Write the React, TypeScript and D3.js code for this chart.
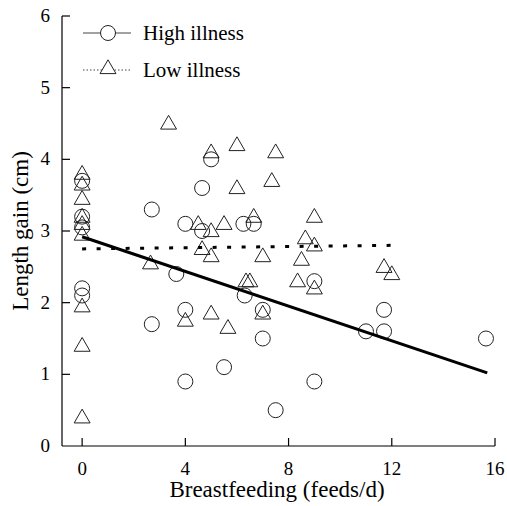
import React, { useEffect, useRef } from 'react';
import * as d3 from 'd3';

// high illness group (circles): [feeds/d, length gain cm]
const highIllness: [number, number][] = [
  [0, 3.7], [0, 3.2], [0, 3.05], [0, 2.2], [0, 2.1],
  [2.7, 3.3], [2.7, 1.7], [3.65, 2.4], [4, 3.1], [4, 1.9], [4, 0.9],
  [4.65, 3.6], [4.65, 3.0], [5.0, 4.0], [5.5, 1.1],
  [6.25, 3.1], [6.3, 2.1], [6.65, 3.1], [7.0, 1.9], [7.0, 1.5],
  [7.5, 0.5], [9.0, 2.3], [9.0, 0.9],
  [11.0, 1.6], [11.7, 1.9], [11.7, 1.6], [15.65, 1.5]
];

// low illness group (triangles)
const lowIllness: [number, number][] = [
  [0, 3.8], [0, 3.65], [0, 3.45], [0, 3.2], [0, 3.1], [0, 2.95],
  [0, 1.95], [0, 1.4], [0, 0.4],
  [2.65, 2.55], [3.35, 4.5], [4.0, 1.75], [4.5, 3.1], [4.65, 2.75],
  [5.0, 4.1], [5.0, 3.0], [5.0, 2.65], [5.0, 1.85], [5.5, 3.1], [5.65, 1.65],
  [6.0, 4.2], [6.0, 3.6], [6.35, 2.3], [6.5, 2.3], [6.65, 3.2],
  [7.0, 2.65], [7.0, 1.85], [7.35, 3.7], [7.5, 4.1],
  [8.35, 2.3], [8.5, 2.6], [8.65, 2.9], [9.0, 3.2], [9.0, 2.8], [9.0, 2.2],
  [11.7, 2.5], [12.0, 2.4]
];

// fitted regression lines (end points)
const highFit: [number, number][] = [[0, 2.92], [15.7, 1.02]];
const lowFit: [number, number][] = [[0, 2.75], [12, 2.8]];

const xTicks = [0, 4, 8, 12, 16];
const yTicks = [0, 1, 2, 3, 4, 5, 6];

const W = 507, H = 506;
const FONT = '"Liberation Serif", "Times New Roman", serif';

export default function App() {
  const svgRef = useRef<SVGSVGElement>(null);

  useEffect(() => {
    const svg = d3.select(svgRef.current);
    svg.selectAll('*').remove();

    const x = d3.scaleLinear().domain([-0.78, 16]).range([62, 495]);
    const y = d3.scaleLinear().domain([0, 6]).range([446, 16]);

    // axes
    const g = svg.append('g').attr('stroke', '#000').attr('stroke-width', 1.2);
    g.append('line').attr('x1', x.range()[0]).attr('x2', x.range()[1])
      .attr('y1', y(0)).attr('y2', y(0));
    g.append('line').attr('x1', x.range()[0]).attr('x2', x.range()[0])
      .attr('y1', y(0)).attr('y2', y(6));

    g.selectAll('.xt').data(xTicks).enter().append('line')
      .attr('x1', d => x(d)).attr('x2', d => x(d))
      .attr('y1', y(0)).attr('y2', y(0) - 8);
    g.selectAll('.yt').data(yTicks.filter(d => d > 0)).enter().append('line')
      .attr('x1', x.range()[0]).attr('x2', x.range()[0] + 8)
      .attr('y1', d => y(d)).attr('y2', d => y(d));

    svg.selectAll('.xl').data(xTicks).enter().append('text')
      .attr('x', d => x(d)).attr('y', 475)
      .attr('text-anchor', 'middle')
      .attr('font-family', FONT).attr('font-size', 19)
      .text(d => d);
    svg.selectAll('.yl').data(yTicks).enter().append('text')
      .attr('x', 50).attr('y', d => y(d) + 6)
      .attr('text-anchor', 'end')
      .attr('font-family', FONT).attr('font-size', 19)
      .text(d => d);

    svg.append('text')
      .attr('x', 277).attr('y', 497)
      .attr('text-anchor', 'middle')
      .attr('font-family', FONT).attr('font-size', 23)
      .text('Breastfeeding (feeds/d)');
    svg.append('text')
      .attr('transform', 'translate(28,' + 231 + ') rotate(-90)')
      .attr('text-anchor', 'middle')
      .attr('font-family', FONT).attr('font-size', 23)
      .text('Length gain (cm)');

    const tri = d3.symbol().type(d3.symbolTriangle).size(110);

    // points
    svg.selectAll('.c').data(highIllness).enter().append('circle')
      .attr('cx', d => x(d[0])).attr('cy', d => y(d[1])).attr('r', 7.5)
      .attr('fill', 'none').attr('stroke', '#222').attr('stroke-width', 1);
    svg.selectAll('.t').data(lowIllness).enter().append('path')
      .attr('d', tri)
      .attr('transform', d => 'translate(' + x(d[0]) + ',' + (y(d[1]) + 1) + ')')
      .attr('fill', 'none').attr('stroke', '#222').attr('stroke-width', 1);

    // fit lines
    const line = d3.line<[number, number]>().x(d => x(d[0])).y(d => y(d[1]));
    svg.append('path').attr('d', line(highFit))
      .attr('fill', 'none').attr('stroke', '#000').attr('stroke-width', 3);
    svg.append('path').attr('d', line(lowFit))
      .attr('fill', 'none').attr('stroke', '#000').attr('stroke-width', 3)
      .attr('stroke-dasharray', '4 10.5');

    // legend
    const lg = svg.append('g');
    lg.append('line').attr('x1', 83).attr('x2', 131).attr('y1', 33).attr('y2', 33)
      .attr('stroke', '#444').attr('stroke-width', 1);
    lg.append('circle').attr('cx', 108).attr('cy', 33).attr('r', 7.5)
      .attr('fill', '#fff').attr('stroke', '#222').attr('stroke-width', 1);
    lg.append('text').attr('x', 143).attr('y', 40)
      .attr('font-family', FONT).attr('font-size', 21).text('High illness');
    lg.append('line').attr('x1', 83).attr('x2', 131).attr('y1', 70).attr('y2', 70)
      .attr('stroke', '#444').attr('stroke-width', 1).attr('stroke-dasharray', '1.5 2');
    lg.append('path').attr('d', tri).attr('transform', 'translate(108,69)')
      .attr('fill', '#fff').attr('stroke', '#222').attr('stroke-width', 1);
    lg.append('text').attr('x', 143).attr('y', 77)
      .attr('font-family', FONT).attr('font-size', 21).text('Low illness');
  }, []);

  return (
    <div style={{ position: 'absolute', left: 0, top: 0 }}>
      <svg ref={svgRef} width={W} height={H} style={{ display: 'block', background: '#fff' }} />
    </div>
  );
}
